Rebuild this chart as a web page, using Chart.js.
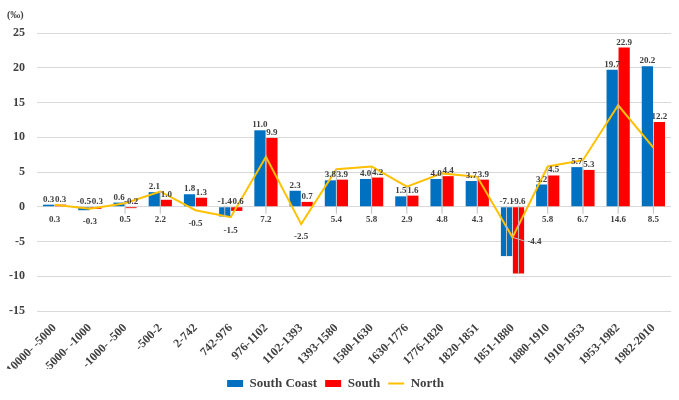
<!DOCTYPE html>
<html>
<head>
<meta charset="utf-8">
<script src="https://cdn.jsdelivr.net/npm/chart.js@4/dist/chart.umd.min.js"></script>
<style>
  html, body { margin: 0; padding: 0; background: #fff; }
  #wrap { width: 679px; height: 400px; }
</style>
</head>
<body>
<div id="wrap"><canvas id="c"></canvas></div>
<script>
// ── DATA ───────────────────────────────────────
const periods = ['-10000- -5000', '-5000- -1000', '-1000- -500', '-500-2', '2-742', '742-976',
  '976-1102', '1102-1393', '1393-1580', '1580-1630', '1630-1776', '1776-1820',
  '1820-1851', '1851-1880', '1880-1910', '1910-1953', '1953-1982', '1982-2010'];
const southCoast = [0.3, -0.5, 0.6, 2.1, 1.8, -1.4, 11.0, 2.3, 3.8, 4.0, 1.5, 4.0, 3.7, -7.1, 3.2, 5.7, 19.7, 20.2];
const south      = [0.3, -0.3, -0.2, 1.0, 1.3, -0.6, 9.9, 0.7, 3.9, 4.2, 1.6, 4.4, 3.9, -9.6, 4.5, 5.3, 22.9, 12.2];
const north      = [0.3, -0.3, 0.5, 2.2, -0.5, -1.5, 7.2, -2.5, 5.4, 5.8, 2.9, 4.8, 4.3, -4.4, 5.8, 6.7, 14.6, 8.5];
const yTicks = [-15, -10, -5, 0, 5, 10, 15, 20, 25];

const SERIF = '"Liberation Serif", "Times New Roman", serif';
const TXT = '#404040';

// ── LABEL PLUGIN ──────────────────────────────
const labelPlugin = {
  id: 'valueLabels',
  afterDatasetsDraw(chart) {
    const { ctx, scales: { y } } = chart;
    const zeroY = y.getPixelForValue(0);
    ctx.save();
    ctx.font = 'bold 9px ' + SERIF;
    ctx.fillStyle = TXT;
    ctx.textAlign = 'center';
    ctx.strokeStyle = '#bfbfbf';
    ctx.lineWidth = 1;

    // bar labels
    [0, 1].forEach(di => {
      const vals = chart.data.datasets[di].data;
      chart.getDatasetMeta(di).data.forEach((el, i) => {
        const v = vals[i];
        const ly = v >= 0 ? el.y - 3 : zeroY - 3;
        if (v < 0 && el.y - zeroY > 6) {
          ctx.beginPath(); ctx.moveTo(el.x, ly + 2); ctx.lineTo(el.x, el.y); ctx.stroke();
        }
        ctx.textBaseline = 'alphabetic';
        ctx.fillText(v.toFixed(1), el.x, ly);
      });
    });

    // north labels under the zero line with leader lines
    chart.getDatasetMeta(2).data.forEach((pt, i) => {
      const v = north[i];
      ctx.textBaseline = 'middle';
      if (v < -3) {
        const lx = pt.x + 22, ly = pt.y + 4;
        ctx.beginPath(); ctx.moveTo(pt.x, pt.y); ctx.lineTo(lx - 9, ly); ctx.stroke();
        ctx.fillText(v.toFixed(1), lx, ly);
        return;
      }
      const ly = Math.max(zeroY, pt.y) + 13;
      if (ly - pt.y > 16) {
        ctx.beginPath(); ctx.moveTo(pt.x, pt.y); ctx.lineTo(pt.x, ly - 6); ctx.stroke();
      }
      ctx.fillText(v.toFixed(1), pt.x, ly);
    });

    // unit
    ctx.font = 'bold 10px ' + SERIF;
    ctx.textAlign = 'left';
    ctx.textBaseline = 'middle';
    ctx.fillText('(‰)', 7, 15);
    ctx.restore();
  }
};

// ── CHART ─────────────────────────────────────
new Chart(document.getElementById('c'), {
  type: 'bar',
  data: {
    labels: periods,
    datasets: [
      { label: 'South Coast', data: southCoast, backgroundColor: '#0070C0', pointStyle: 'rect',
        categoryPercentage: 0.68, barPercentage: 0.94, order: 1 },
      { label: 'South', data: south, backgroundColor: '#FF0000', pointStyle: 'rect',
        categoryPercentage: 0.68, barPercentage: 0.94, order: 1 },
      { label: 'North', data: north, type: 'line', borderColor: '#FFC000', backgroundColor: '#FFC000',
        borderWidth: 2, pointRadius: 0, tension: 0, pointStyle: 'line', order: 0 }
    ]
  },
  options: {
    responsive: true,
    maintainAspectRatio: false,
    animation: false,
    layout: { padding: { top: 33, right: 8, left: 0, bottom: 0 } },
    plugins: {
      legend: {
        position: 'bottom',
        labels: {
          usePointStyle: true, pointStyleWidth: 16, boxHeight: 7,
          color: TXT, font: { family: SERIF, size: 13, weight: 'bold' }, padding: 8,
          sort: (a, b) => a.datasetIndex - b.datasetIndex
        }
      },
      tooltip: { enabled: false }
    },
    scales: {
      x: {
        grid: { display: false },
        border: { display: false },
        ticks: { color: TXT, font: { family: SERIF, size: 12, weight: 'bold' }, maxRotation: 45, minRotation: 45, padding: 2 },
        afterFit: s => { s.height = 58; }
      },
      y: {
        min: -15, max: 25,
        afterBuildTicks: s => { s.ticks = yTicks.map(v => ({ value: v })); },
        grid: { color: '#d9d9d9', drawTicks: false },
        border: { display: false },
        ticks: { color: TXT, font: { family: SERIF, size: 12, weight: 'bold' }, padding: 12 },
        afterFit: s => { s.width = 37; }
      }
    }
  },
  plugins: [labelPlugin]
});
</script>
</body>
</html>
